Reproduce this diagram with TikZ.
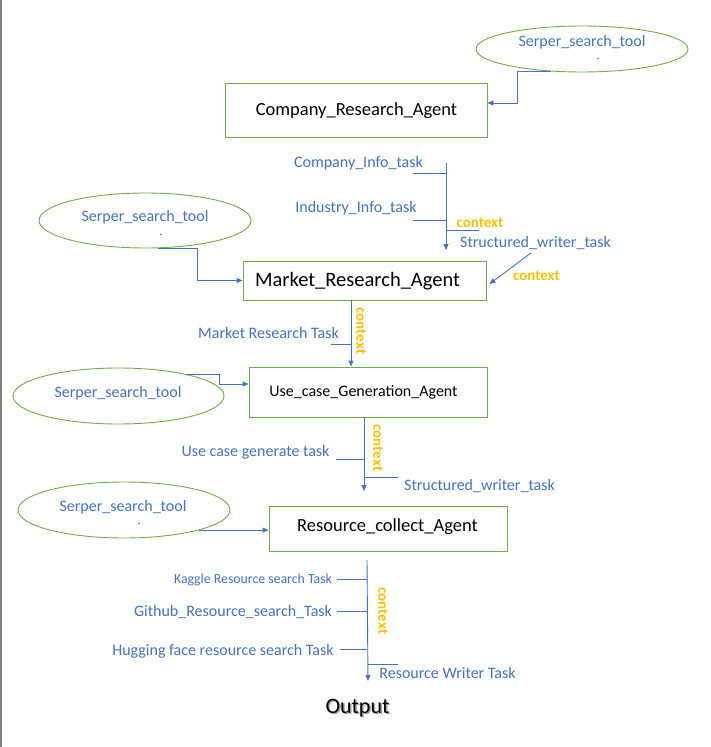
\documentclass[tikz,border=0pt]{standalone}
\usepackage{fontspec}
\setmainfont{Carlito}
\usetikzlibrary{arrows.meta,shapes.geometric,calc}
\definecolor{ofblue}{HTML}{4472C4}
\definecolor{ofgreen}{HTML}{70AD47}
\definecolor{oforange}{HTML}{FFC000}
\definecolor{edgegray}{HTML}{808080}
\begin{document}
\begin{tikzpicture}[x=1pt,y=-1pt,
  conn/.style={draw=ofblue, line width=0.9pt, -{Triangle[length=6pt,width=5pt]}},
  tline/.style={draw=ofblue, line width=0.9pt},
  agent/.style={draw=ofgreen, line width=0.9pt, rectangle, inner sep=0},
  tool/.style={draw=ofgreen, line width=0.9pt, ellipse, inner sep=0},
  bl/.style={text=ofblue, inner sep=0, anchor=base, font=\fontsize{16}{19}\selectfont},
  ag/.style={text=black, inner sep=0, anchor=base},
  ctx/.style={text=oforange, inner sep=0, font=\bfseries\fontsize{15}{18}\selectfont},
  ctxv/.style={ctx, rotate=-90},
  dotmark/.style={circle, fill=ofblue, inner sep=0, minimum size=1.6pt},
]
\useasboundingbox (0,0) rectangle (710,747);
\fill[white] (0,0) rectangle (710,747);
\draw[edgegray, line width=1.5pt] (0.75,0) -- (0.75,747);

% --- Company research agent
\node[tool, minimum width=212pt, minimum height=46pt] (e1) at (582,49) {};
\node[bl] (e1t) at (582,46) {Serper\_search\_tool};
\node[dotmark] (e1d) at (598,58.5) {};
\node[agent, minimum width=262pt, minimum height=54pt] (box1) at (356,110) {};
\node[ag, font=\fontsize{18.5}{22}\selectfont] (box1t) at (356.5,115.5) {Company\_Research\_Agent};
\draw[conn] (e1.216) -- ++(-34,0) |- ($(box1.east)+(0,-7)$);

% --- tasks of flow A
\node[bl] (ci) at (358.5,167) {Company\_Info\_task};
\node[bl] (ii) at (356,212) {Industry\_Info\_task};
\node[ctx, anchor=base] (c1) at (480,227) {context};
\node[bl] (sw1) at (535.5,247) {Structured\_writer\_task};
\node[ctx, anchor=base] (c2) at (536.5,280) {context};
\coordinate (a1s) at (446,163);
\coordinate (a1e) at (446,250);
\draw[conn] (a1s) -- (a1e);
\coordinate (t1) at (413,173);
\draw[tline] (t1) -- (t1 -| a1s);
\coordinate (t2) at (413,220);
\draw[tline] (t2) -- (t2 -| a1s);
\coordinate (t3) at (479,230);
\draw[tline] (t3 -| a1s) -- (t3);

% --- Market research agent
\node[tool, minimum width=212pt, minimum height=55pt] (e2) at (145,220.5) {};
\node[bl] (e2t) at (145,221) {Serper\_search\_tool};
\node[dotmark] (e2d) at (161,234.5) {};
\node[agent, minimum width=243pt, minimum height=39pt] (box2) at (364.5,280.5) {};
\node[ag, font=\fontsize{20.5}{24}\selectfont] (box2t) at (357.5,286.5) {Market\_Research\_Agent};
\draw[conn] (e2.295) -- ++(40,0) |- (box2.west);
\coordinate (d1) at (531,253);
\draw[conn] (d1) -- ($(box2.east)+(3,3.5)$);

% --- flow B
\node[agent, minimum width=238pt, minimum height=50pt] (box3) at (368,392) {};
\coordinate (bx) at (351,300);
\draw[conn] (box2.south -| bx) -- (box3.north -| bx);
\node[ctxv] (c3) at (361,331) {context};
\node[bl] (mrt) at (268.5,338) {Market Research Task};
\coordinate (t4) at (331,344);
\draw[tline] (t4) -- (t4 -| bx);

% --- Use case generation agent
\node[ag, font=\fontsize{16}{19}\selectfont] (box3t) at (363.5,396) {Use\_case\_Generation\_Agent};
\node[tool, minimum width=211pt, minimum height=56pt] (e3) at (118.5,396) {};
\node[bl] (e3t) at (118,397) {Serper\_search\_tool};
\draw[conn] (e3.18) -- ++(33,0) |- ($(box3.west)+(0,-8)$);

% --- flow C
\coordinate (cx) at (364,491);
\draw[conn] (box3.south -| cx) -- (cx);
\node[ctxv] (c4) at (378,448) {context};
\node[bl] (ucg) at (255.5,456) {Use case generate task};
\coordinate (t5) at (336,459);
\draw[tline] (t5) -- (t5 -| cx);
\coordinate (t6) at (398,477);
\draw[tline] (t6 -| cx) -- (t6);
\node[bl] (sw2) at (479.5,490) {Structured\_writer\_task};

% --- Resource collect agent
\node[agent, minimum width=238pt, minimum height=45pt] (box4) at (388,528.5) {};
\node[ag, font=\fontsize{18.5}{22}\selectfont] (box4t) at (387.5,531) {Resource\_collect\_Agent};
\node[tool, minimum width=212pt, minimum height=56pt] (e4) at (124,510) {};
\node[bl] (e4t) at (123,511) {Serper\_search\_tool};
\node[dotmark] (e4d) at (139,523.5) {};
\draw[conn] (e4.-15) -- (e4.-15 -| box4.west);

% --- flow D
\coordinate (dtop) at (367,560);
\coordinate (dend) at (368,681);
\draw[conn] (dtop) -- (dend);
\node[bl, font=\fontsize{13.8}{16}\selectfont] (kag) at (253,583.5) {Kaggle Resource search Task};
\node[bl] (git) at (233,616) {Github\_Resource\_search\_Task};
\node[bl] (hug) at (223,655) {Hugging face resource search Task};
\coordinate (t7) at (337,579);
\draw[tline] (t7) -- (t7 -| dtop);
\coordinate (t8) at (337,611);
\draw[tline] (t8) -- (t8 -| dtop);
\coordinate (t9) at (340,649);
\draw[tline] (t9) -- (t9 -| dtop);
\coordinate (t10) at (398,664);
\draw[tline] (t10 -| dend) -- (t10);
\node[ctxv] (c5) at (383,611) {context};
\node[bl] (rwt) at (447.5,678) {Resource Writer Task};

% --- output
\node[ag, text=black!35, font=\fontsize{22}{26}\selectfont] (outs) at (359,714.5) {Output};
\node[ag, font=\fontsize{22}{26}\selectfont] (out) at (357.5,713) {Output};
\end{tikzpicture}
\end{document}
